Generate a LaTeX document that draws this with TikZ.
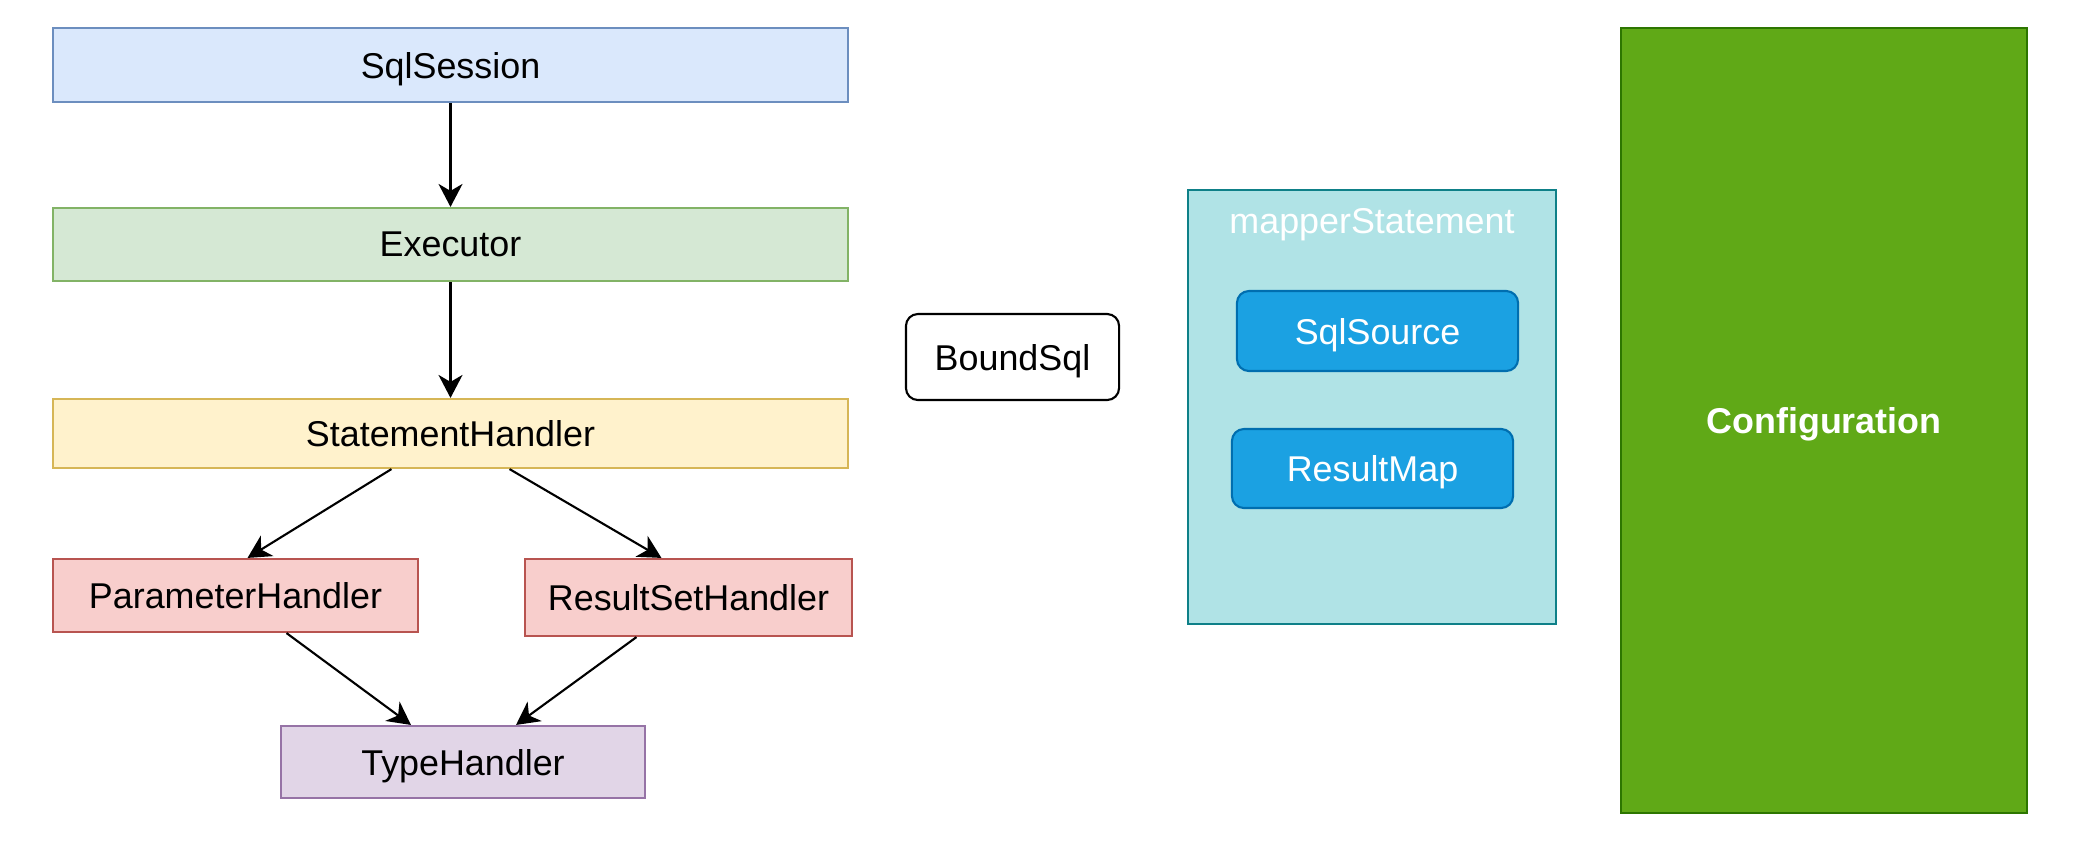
\documentclass[tikz,border=0pt]{standalone}
\usepackage{fontspec}
\setmainfont{Liberation Sans}
\usepackage{xcolor}
\usetikzlibrary{arrows.meta}
\usetikzlibrary{positioning}

\definecolor{sessfill}{HTML}{DAE8FC}
\definecolor{sessline}{HTML}{6C8EBF}
\definecolor{execfill}{HTML}{D5E8D4}
\definecolor{execline}{HTML}{82B366}
\definecolor{stmtfill}{HTML}{FFF2CC}
\definecolor{stmtline}{HTML}{D6B656}
\definecolor{hdlfill}{HTML}{F8CECC}
\definecolor{hdlline}{HTML}{B85450}
\definecolor{typefill}{HTML}{E1D5E7}
\definecolor{typeline}{HTML}{9673A6}
\definecolor{mapfill}{HTML}{B0E3E6}
\definecolor{mapline}{HTML}{0E8088}
\definecolor{srcfill}{HTML}{1BA1E2}
\definecolor{srcline}{HTML}{006EAF}
\definecolor{cfgfill}{HTML}{60A917}
\definecolor{cfgline}{HTML}{2D7600}

\begin{document}
\begin{tikzpicture}[x=0.01cm,y=-0.01cm,line width=0.6pt,>={Stealth[length=0.23cm,width=0.24cm,inset=0.07cm]}]
		\tikzstyle{box}=[draw, rectangle, inner sep=0pt, text depth=0pt, font=\fontsize{10.2}{12}\selectfont]
		\tikzstyle{rbox}=[box, rounded corners=0.12cm]
		\useasboundingbox (0,0) rectangle (2080,857);
			\node[box, fill=sessfill, draw=sessline, minimum width=7.95cm, minimum height=0.74cm] (sess) at (450.5,65) {SqlSession};
			\node[box, fill=execfill, draw=execline, minimum width=7.95cm, minimum height=0.73cm] (exec) at (450.5,244.5) {Executor};
			\node[box, fill=stmtfill, draw=stmtline, minimum width=7.95cm, minimum height=0.69cm] (stmt) at (450.5,433.5) {StatementHandler};
			\node[box, fill=hdlfill, draw=hdlline, minimum width=3.65cm, minimum height=0.73cm] (param) at (235.5,595.5) {ParameterHandler};
			\node[box, fill=hdlfill, draw=hdlline, minimum width=3.27cm, minimum height=0.77cm] (rset) at (688.5,597.5) {ResultSetHandler};
			\node[box, fill=typefill, draw=typeline, minimum width=3.64cm, minimum height=0.72cm] (type) at (463,762) {TypeHandler};
			\node[rbox, fill=white, draw=black, minimum width=2.13cm, minimum height=0.86cm] (bsql) at (1012.5,357) {BoundSql};
			\node[box, fill=mapfill, draw=mapline, minimum width=3.68cm, minimum height=4.34cm] (mst) at (1372,407) {};
			\node[font=\fontsize{10.2}{12}\selectfont, text=white, text depth=0pt, inner sep=0pt] (mstl) at (1372,221) {mapperStatement};
			\node[rbox, fill=srcfill, draw=srcline, text=white, minimum width=2.81cm, minimum height=0.80cm] (src) at (1377.5,331) {SqlSource};
			\node[rbox, fill=srcfill, draw=srcline, text=white, minimum width=2.81cm, minimum height=0.79cm] (rmap) at (1372.5,468.5) {ResultMap};
			\node[box, fill=cfgfill, draw=cfgline, text=white, minimum width=4.06cm, minimum height=7.85cm, font=\fontsize{10.2}{12}\selectfont\bfseries] (cfg) at (1824,420.5) {Configuration};
			\draw[->] (sess) -- (exec);
			\draw[->] (exec) -- (stmt);
			\draw[->] ([xshift=-0.59cm]stmt.south) -- ([xshift=0.12cm]param.north);
			\draw[->] ([xshift=0.59cm]stmt.south) -- ([xshift=-0.27cm]rset.north);
			\draw[->] ([xshift=0.51cm]param.south) -- ([xshift=-0.52cm]type.north);
			\draw[->] ([xshift=-0.52cm]rset.south) -- ([xshift=0.53cm]type.north);
\end{tikzpicture}
\end{document}
